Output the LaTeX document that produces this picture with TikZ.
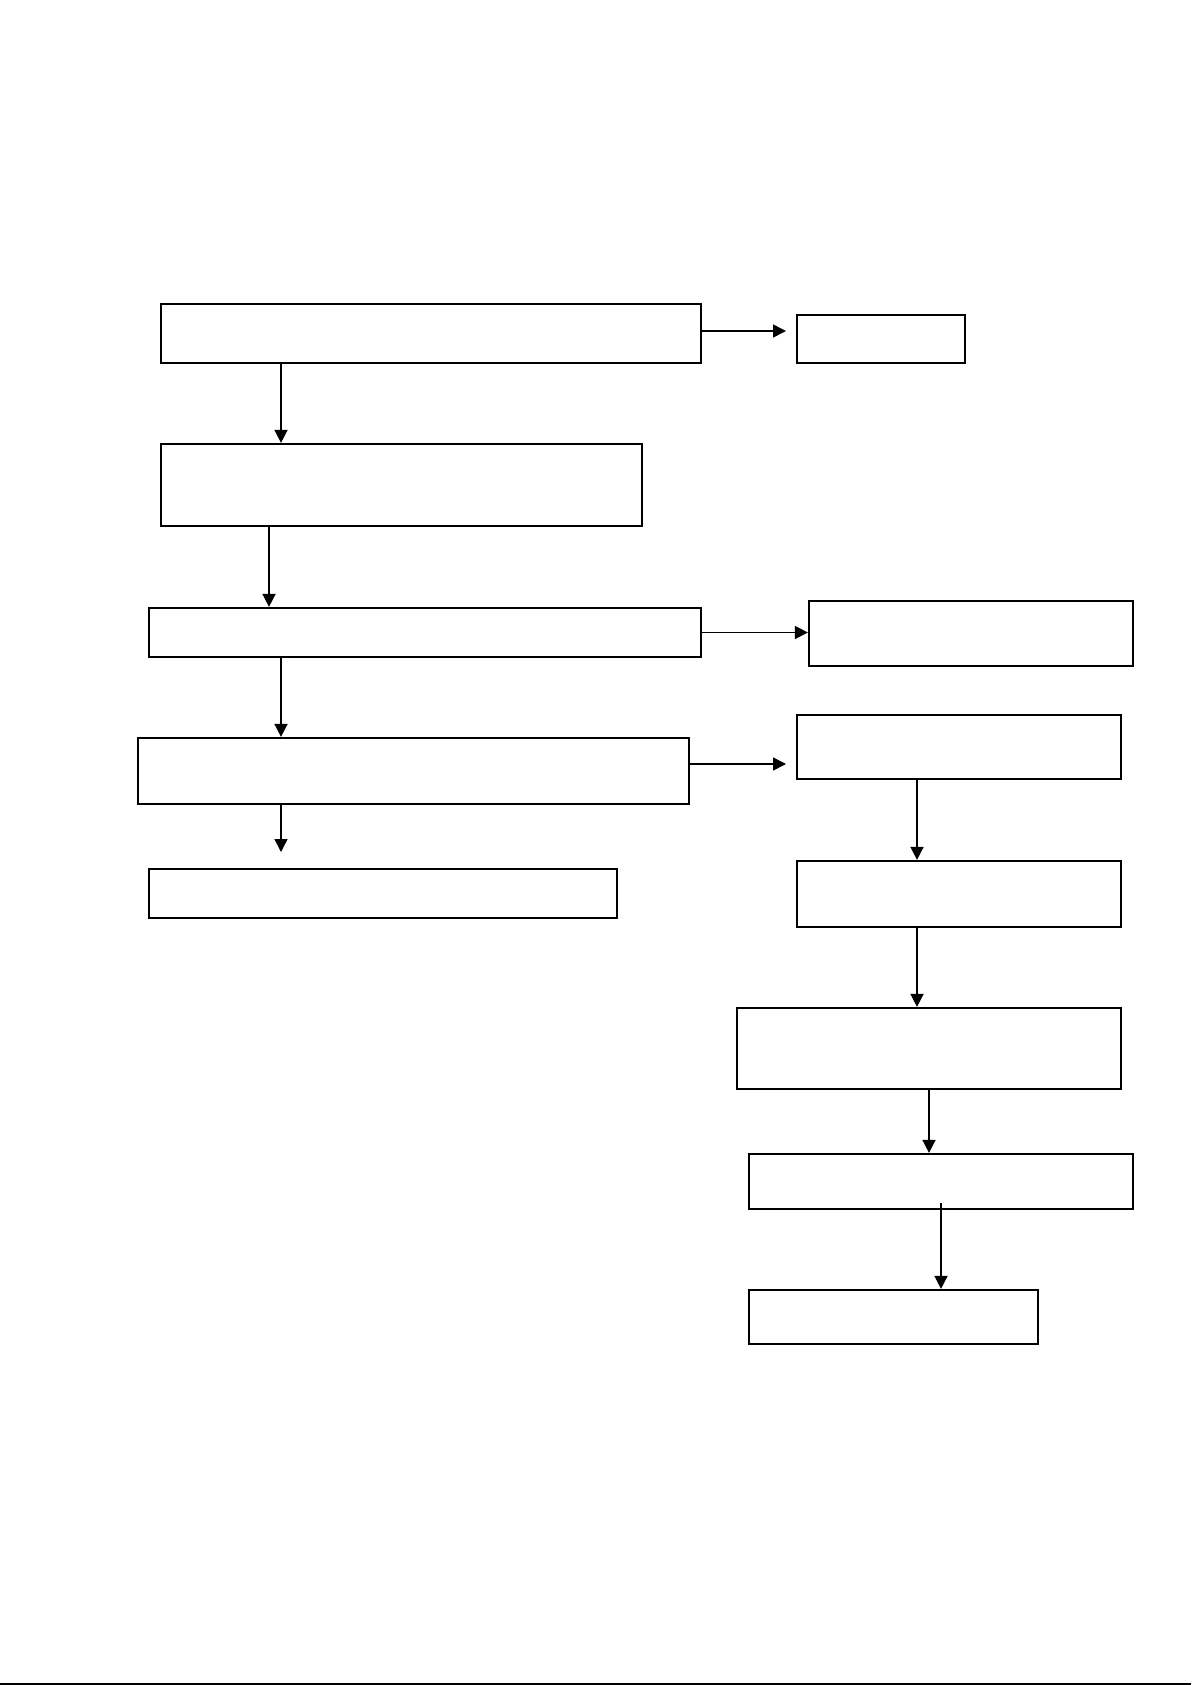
\documentclass[tikz,border=0pt]{standalone}
\usetikzlibrary{arrows.meta}
\begin{document}
\begin{tikzpicture}[x=0.5pt,y=-0.5pt,
  box/.style={draw=black,line width=1.1pt,fill=white,inner sep=0pt,rectangle},
  arr/.style={draw=black,line width=0.75pt,-{Triangle[length=6.5pt,width=6.5pt]}}]
\useasboundingbox (0,0) rectangle (1191,1685);
\fill[white] (0,0) rectangle (1191,1685);
% boxes
\node[box,minimum width=270pt,minimum height=29.5pt] (A) at (431,333.5) {};
\node[box,minimum width=84pt,minimum height=24pt] (B) at (881,339) {};
\node[box,minimum width=240.5pt,minimum height=41pt] (C) at (401.5,485) {};
\node[box,minimum width=276pt,minimum height=24.5pt] (D) at (425,632.5) {};
\node[box,minimum width=162pt,minimum height=32.5pt] (E) at (971,633.5) {};
\node[box,minimum width=275.5pt,minimum height=33pt] (F) at (413.5,771) {};
\node[box,minimum width=234pt,minimum height=24.5pt] (G) at (383,893.5) {};
\node[box,minimum width=162pt,minimum height=32pt] (H) at (959,747) {};
\node[box,minimum width=162pt,minimum height=33pt] (I) at (959,894) {};
\node[box,minimum width=192pt,minimum height=40.5pt] (J) at (929,1048.5) {};
\node[box,minimum width=192pt,minimum height=27.5pt] (K) at (941,1181.5) {};
\node[box,minimum width=144.5pt,minimum height=27pt] (L) at (893.5,1317) {};
% helper coordinates
\coordinate (xl) at (281,0);
\coordinate (xc) at (269,0);
\coordinate (xr) at (917,0);
\coordinate (xj) at (929,0);
\coordinate (xk) at (941,0);
\coordinate (Bend) at (786,331);
\coordinate (Hend) at (786,764);
\coordinate (Gend) at (281,852);
\coordinate (Kstart) at (941,1203);
% connectors
\draw[arr] (A.east |- Bend) -- (Bend);
\draw[arr] (xl |- A.south) -- (xl |- C.north);
\draw[arr] (xc |- C.south) -- (xc |- D.north);
\draw[arr] (D.east) -- (E.west |- D.east);
\draw[arr] (xl |- D.south) -- (xl |- F.north);
\draw[arr] (F.east |- Hend) -- (Hend);
\draw[arr] (xl |- F.south) -- (Gend);
\draw[arr] (xr |- H.south) -- (xr |- I.north);
\draw[arr] (xr |- I.south) -- (xr |- J.north);
\draw[arr] (xj |- J.south) -- (xj |- K.north);
\draw[arr] (Kstart) -- (xk |- L.north);
% bottom edge line
\coordinate (bl) at (0,1684);
\coordinate (br) at (1191,1684);
\draw[black,line width=0.7pt] (bl) -- (br);
\end{tikzpicture}
\end{document}
